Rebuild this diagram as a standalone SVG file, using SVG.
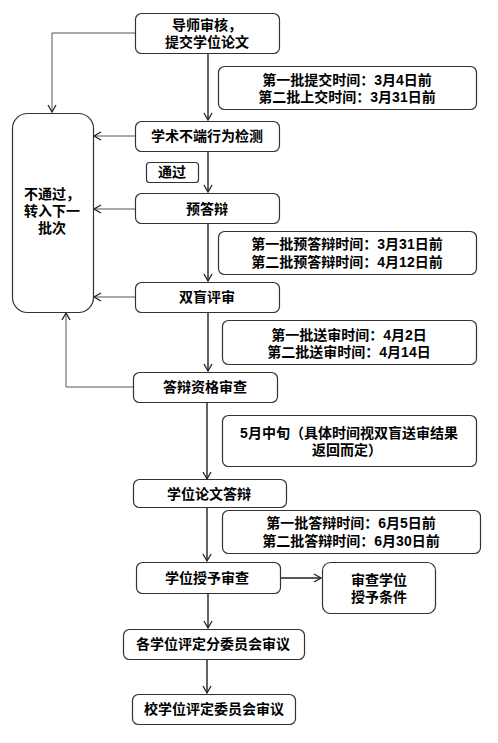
<svg xmlns="http://www.w3.org/2000/svg" width="498" height="743" viewBox="0 0 498 743">
<style>
.box{fill:#fff;stroke:#333;stroke-width:1.2}
.t{font-family:"Liberation Sans","Noto Sans CJK SC",sans-serif;font-size:14px;font-weight:bold;fill:#000;text-anchor:middle;dominant-baseline:central}
.c{fill:none;stroke:#222;stroke-width:1.4}
.g{fill:none;stroke:#555;stroke-width:1}
</style>
<defs>
<marker id="ah" markerWidth="10" markerHeight="10" refX="8" refY="5" orient="auto" markerUnits="userSpaceOnUse">
<path d="M1,1 L8,5 L1,9" fill="none" stroke="#222" stroke-width="1.3"/>
</marker>
</defs>
<rect width="498" height="743" fill="#fff"/>
<g id="connectors">
<path class="c" d="M208,53 V120" marker-end="url(#ah)"/>
<path class="c" d="M208,151 V192" marker-end="url(#ah)"/>
<path class="c" d="M208,223 V281" marker-end="url(#ah)"/>
<path class="c" d="M208,312 V371" marker-end="url(#ah)"/>
<path class="c" d="M207,402 V479" marker-end="url(#ah)"/>
<path class="c" d="M207,507 V561" marker-end="url(#ah)"/>
<path class="c" d="M208,593 V628" marker-end="url(#ah)"/>
<path class="c" d="M207,659 V693" marker-end="url(#ah)"/>
<path class="c" d="M280,578 H321" marker-end="url(#ah)"/>
<path class="g" d="M135,33 H52 V112" marker-end="url(#ah)"/>
<path class="g" d="M135,136 H94" marker-end="url(#ah)"/>
<path class="g" d="M135,209 H94" marker-end="url(#ah)"/>
<path class="g" d="M135,297 H94" marker-end="url(#ah)"/>
<path class="g" d="M133,387 H66 V313" marker-end="url(#ah)"/>
</g>
<g id="fail">
<rect class="box" x="12.5" y="113.5" width="81" height="199" rx="15"/>
<text class="t" x="52" y="194">不通过，</text>
<text class="t" x="52" y="211">转入下一</text>
<text class="t" x="52" y="228">批次</text>
</g>
<g id="n1">
<rect class="box" x="135.5" y="13.5" width="144" height="40" rx="6"/>
<text class="t" x="207" y="25">导师审核，</text>
<text class="t" x="207" y="42">提交学位论文</text>
</g>
<g id="note1">
<rect class="box" x="218.5" y="66.5" width="258" height="43" rx="6"/>
<text class="t" x="347" y="80">第一批提交时间：3月4日前</text>
<text class="t" x="347" y="97">第二批上交时间：3月31日前</text>
</g>
<g id="n2">
<rect class="box" x="135.5" y="121.5" width="144" height="30" rx="6"/>
<text class="t" x="207" y="136">学术不端行为检测</text>
</g>
<g id="pass">
<rect class="box" x="146.5" y="162.5" width="52" height="20" rx="3"/>
<text class="t" x="172" y="172">通过</text>
</g>
<g id="n3">
<rect class="box" x="135.5" y="193.5" width="144" height="30" rx="6"/>
<text class="t" x="207" y="209">预答辩</text>
</g>
<g id="note2">
<rect class="box" x="218.5" y="231.5" width="258" height="43" rx="6"/>
<text class="t" x="347" y="244">第一批预答辩时间：3月31日前</text>
<text class="t" x="347" y="262">第二批预答辩时间：4月12日前</text>
</g>
<g id="n4">
<rect class="box" x="135.5" y="282.5" width="144" height="30" rx="6"/>
<text class="t" x="207" y="297">双盲评审</text>
</g>
<g id="note3">
<rect class="box" x="222.5" y="320.5" width="254" height="44" rx="6"/>
<text class="t" x="349" y="335">第一批送审时间：4月2日</text>
<text class="t" x="349" y="352">第二批送审时间：4月14日</text>
</g>
<g id="n5">
<rect class="box" x="133.5" y="372.5" width="144" height="30" rx="6"/>
<text class="t" x="205" y="387">答辩资格审查</text>
</g>
<g id="note4">
<rect class="box" x="222.5" y="415.5" width="254" height="51" rx="6"/>
<text class="t" x="349" y="433">5月中旬（具体时间视双盲送审结果</text>
<text class="t" x="347" y="450">返回而定）</text>
</g>
<g id="n6">
<rect class="box" x="133.5" y="479.5" width="153" height="28" rx="6"/>
<text class="t" x="209" y="494">学位论文答辩</text>
</g>
<g id="note5">
<rect class="box" x="222.5" y="510.5" width="258" height="43" rx="6"/>
<text class="t" x="351" y="523">第一批答辩时间：6月5日前</text>
<text class="t" x="351" y="541">第二批答辩时间：6月30日前</text>
</g>
<g id="n7">
<rect class="box" x="136.5" y="562.5" width="144" height="31" rx="6"/>
<text class="t" x="207" y="578">学位授予审查</text>
</g>
<g id="n8">
<rect class="box" x="322.5" y="562.5" width="113" height="51" rx="8"/>
<text class="t" x="379" y="580">审查学位</text>
<text class="t" x="379" y="597">授予条件</text>
</g>
<g id="n9">
<rect class="box" x="123.5" y="629.5" width="181" height="30" rx="6"/>
<text class="t" x="213" y="644">各学位评定分委员会审议</text>
</g>
<g id="n10">
<rect class="box" x="132.5" y="694.5" width="163" height="30" rx="6"/>
<text class="t" x="214" y="709">校学位评定委员会审议</text>
</g>
</svg>
